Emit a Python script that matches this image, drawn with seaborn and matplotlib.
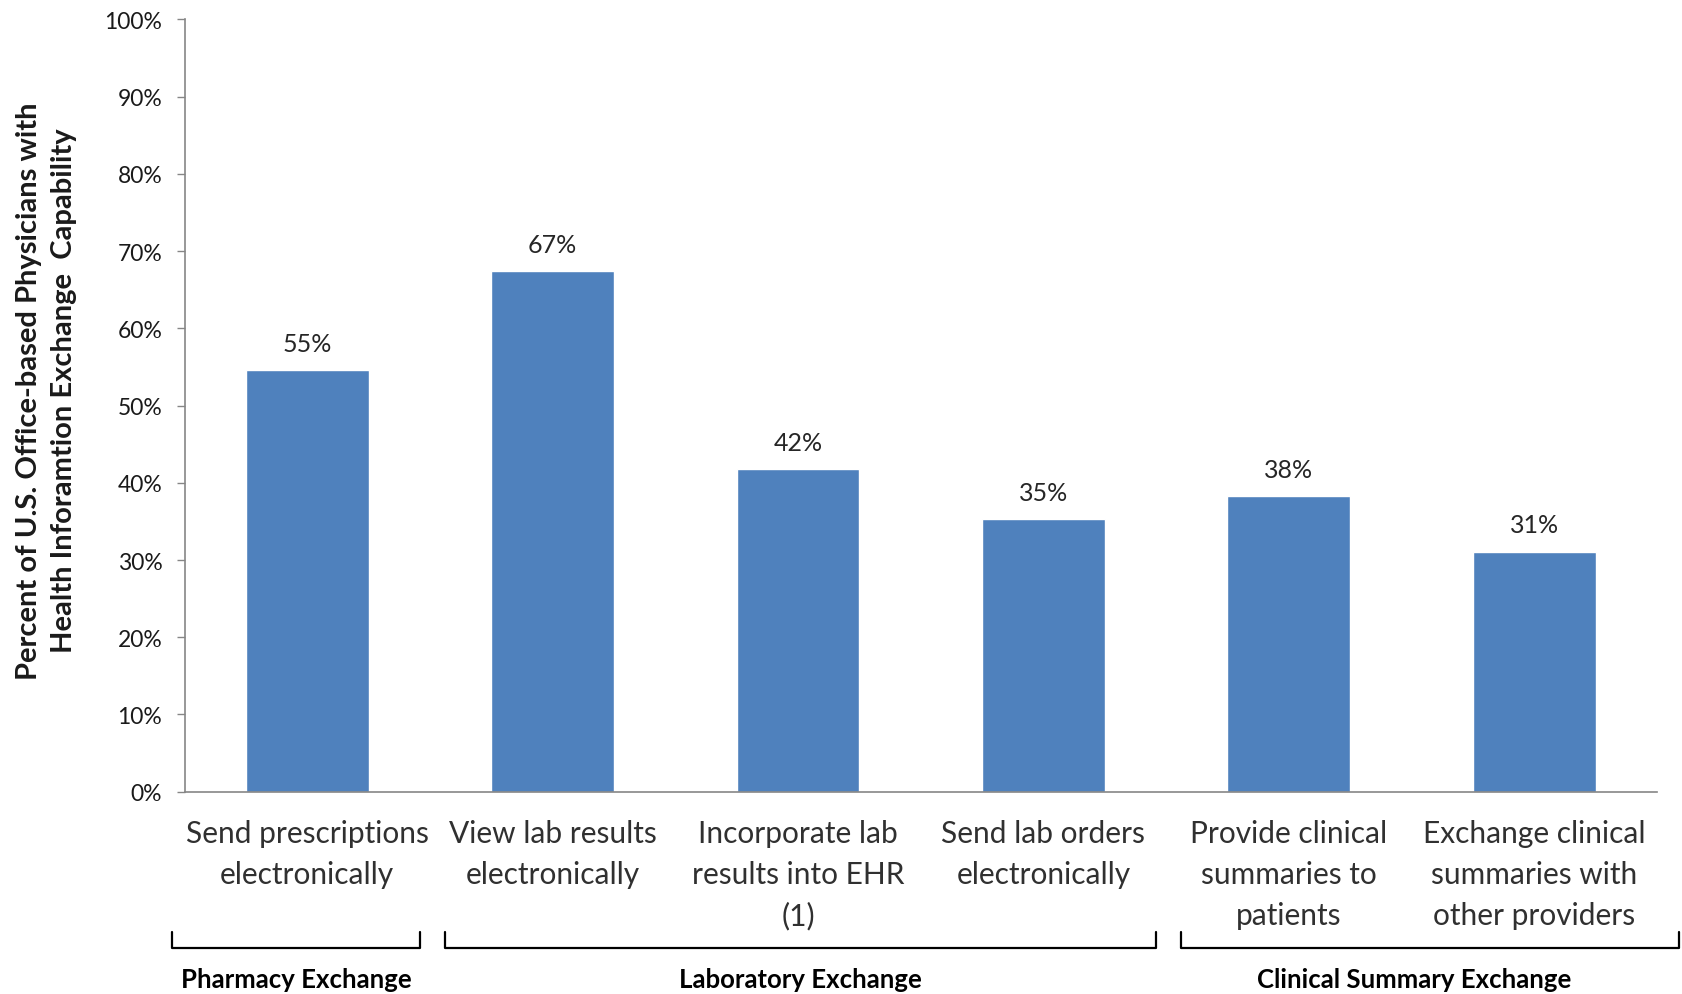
import matplotlib
matplotlib.use("Agg")
import matplotlib.pyplot as plt
import seaborn as sns
import pandas as pd
import numpy as np

categories = [
    "Send prescriptions\nelectronically",
    "View lab results\nelectronically",
    "Incorporate lab\nresults into EHR\n(1)",
    "Send lab orders\nelectronically",
    "Provide clinical\nsummaries to\npatients",
    "Exchange clinical\nsummaries with\nother providers",
]
values = [54.6, 67.4, 41.8, 35.3, 38.3, 31.1]
value_labels = ["55%", "67%", "42%", "35%", "38%", "31%"]
groups = ["Pharmacy Exchange", "Laboratory Exchange", "Clinical Summary Exchange"]
group_members = [[0], [1, 2, 3], [4, 5]]
yticks = [0, 10, 20, 30, 40, 50, 60, 70, 80, 90, 100]
ylabel = "Percent of U.S. Office-based Physicians with\nHealth Inforamtion Exchange  Capability"

sns.set_theme(style="white")
plt.rcParams["font.family"] = ["Lato", "DejaVu Sans"]

df = pd.DataFrame({"cat": categories, "val": values})

fig = plt.figure(figsize=(16.82, 9.95), dpi=100)
ax = fig.add_axes([0.1097, 0.2033, 0.8754, 0.7762])

sns.barplot(data=df, x="cat", y="val", color="#4F81BD", width=0.5, ax=ax, saturation=1)

ax.set_xlim(-0.5, 5.5)
ax.set_ylim(0, 100)
ax.set_yticks(yticks)
ax.set_yticklabels([f"{t}%" for t in yticks], fontsize=16.5, color="#1a1a1a")
ax.tick_params(axis="y", which="both", left=True, length=6, width=1, color="#868686", pad=10)
ax.tick_params(axis="x", bottom=False, pad=14)
ax.set_xticks(range(len(categories)))
ax.set_xticklabels(categories, fontsize=21.5, color="#303030", linespacing=1.55)

ax.set_xlabel("")
ax.set_ylabel(ylabel, fontsize=21, fontweight="bold", color="#1a1a1a", linespacing=1.45)
ax.yaxis.set_label_coords(-0.073, 0.52)

for side in ["top", "right"]:
    ax.spines[side].set_visible(False)
for side in ["left", "bottom"]:
    ax.spines[side].set_color("#868686")
    ax.spines[side].set_linewidth(1.2)

for i, (v, lab) in enumerate(zip(values, value_labels)):
    ax.annotate(lab, (i, v), xytext=(0, 11), textcoords="offset points",
                ha="center", va="bottom", fontsize=18, color="#262626")

# group brackets below the category labels
trans = ax.get_xaxis_transform()
y_top, y_bot = -0.181, -0.202
left_pad = [0.55, 0.44, 0.44]
for gi, (g, members) in enumerate(zip(groups, group_members)):
    left = members[0] - left_pad[gi]
    right = members[-1] + 0.46
    draw_right = right + (0.13 if gi == len(groups) - 1 else 0)
    ax.plot([left, left, draw_right, draw_right], [y_top, y_bot, y_bot, y_top],
            color="#000000", lw=1.6, transform=trans, clip_on=False)
    ax.text((left + right) / 2, -0.243, g, transform=trans, ha="center", va="center",
            fontsize=18.5, fontweight="bold", color="#000000")

fig.savefig("out.png", dpi=100)
